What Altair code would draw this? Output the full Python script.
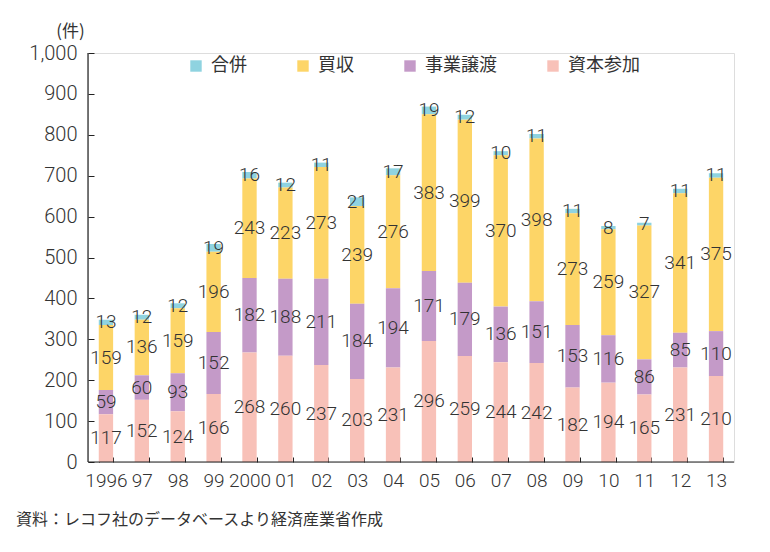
import altair as alt
import pandas as pd

years = ["1996", "97", "98", "99", "2000", "01", "02", "03", "04", "05",
         "06", "07", "08", "09", "10", "11", "12", "13"]
shihon = [117, 152, 124, 166, 268, 260, 237, 203, 231, 296, 259, 244, 242, 182, 194, 165, 231, 210]
jigyo = [59, 60, 93, 152, 182, 188, 211, 184, 194, 171, 179, 136, 151, 153, 116, 86, 85, 110]
baishu = [159, 136, 159, 196, 243, 223, 273, 239, 276, 383, 399, 370, 398, 273, 259, 327, 341, 375]
gappei = [13, 12, 12, 19, 16, 12, 11, 21, 17, 19, 12, 10, 11, 11, 8, 7, 11, 11]

series = ["合併", "買収", "事業譲渡", "資本参加"]
colors = ["#8fd3e0", "#fdd567", "#c49ac8", "#f8c1b8"]
stack_order = {"資本参加": 0, "事業譲渡": 1, "買収": 2, "合併": 3}

rows = []
for name, vals in zip(series, [gappei, baishu, jigyo, shihon]):
    for yr, v in zip(years, vals):
        rows.append({"year": yr, "type": name, "count": v, "ord": stack_order[name]})
df = pd.DataFrame(rows)

NUM_FONT = "Roboto"
JP_FONT = "Noto Sans CJK JP"
TXT = "#333333"
W, H = 646, 409

base = alt.Chart(df).transform_stack(
    stack="count", groupby=["year"],
    sort=[alt.SortField("ord", order="ascending")],
    as_=["y0", "y1"],
).transform_calculate(mid="(datum.y0 + datum.y1) / 2")

xscale = alt.Scale(domain=years, paddingInner=0.6, paddingOuter=0.3)
yscale = alt.Scale(domain=[0, 1000], nice=False)

xaxis = alt.Axis(
    title=None, labelAngle=0, domain=False, grid=False,
    tickBand="extent", tickSize=5, offset=-5, tickColor="#222",
    labelFont=NUM_FONT, labelFontSize=19, labelFontWeight=300,
    labelColor=TXT, labelPadding=9,
)
yaxis = alt.Axis(
    values=list(range(0, 1001, 100)), format=",d", domain=False, grid=False,
    tickSize=6, offset=-6, tickColor="#222",
    labelFont=NUM_FONT, labelFontSize=20, labelFontWeight=300,
    labelColor=TXT, labelPadding=11,
    title="(件)", titleAngle=0, titleFont=JP_FONT, titleFontSize=17,
    titleFontWeight="normal", titleColor=TXT, titleAlign="center",
    titleBaseline="middle", titleX=-24, titleY=-22,
)

bars = base.mark_bar().encode(
    x=alt.X("year:N", sort=years, scale=xscale, axis=xaxis),
    y=alt.Y("y0:Q", scale=yscale, axis=yaxis),
    y2="y1:Q",
    color=alt.Color(
        "type:N",
        scale=alt.Scale(domain=series, range=colors),
        legend=alt.Legend(
            title=None, orient="none", legendX=99, legendY=4,
            direction="horizontal", columns=4, padding=0,
            symbolType="square", symbolSize=130, symbolStrokeWidth=0,
            labelFont=JP_FONT, labelFontSize=18, labelColor=TXT,
            labelOffset=6, columnPadding=47,
        ),
    ),
)

labels = base.mark_text(font=NUM_FONT, fontSize=19, fontWeight=300, color=TXT).encode(
    x=alt.X("year:N", sort=years, scale=xscale),
    y=alt.Y("mid:Q", scale=yscale),
    text="count:Q",
)

one = alt.Chart(pd.DataFrame({"v": [0]}))
x_domain = one.mark_rule(color="#222", strokeWidth=1.2).encode(y=alt.datum(0))
y_domain = one.mark_rule(color="#222", strokeWidth=1.2).encode(
    x=alt.value(0), y=alt.value(0), y2=alt.value(H)
)

chart = alt.layer(bars, labels, x_domain, y_domain).properties(
    width=W, height=H,
    autosize=alt.AutoSizeParams(type="none"),
    padding={"left": 80, "top": 45, "right": 28, "bottom": 82},
    title=alt.TitleParams(
        "資料：レコフ社のデータベースより経済産業省作成",
        orient="bottom", anchor="start", frame="group", font=JP_FONT,
        fontSize=16, fontWeight="normal", color=TXT, dx=-72, offset=22,
    ),
).configure_view(stroke=None).configure(background="white")

chart.save("out.html", embed_options={"renderer": "svg", "actions": False})
